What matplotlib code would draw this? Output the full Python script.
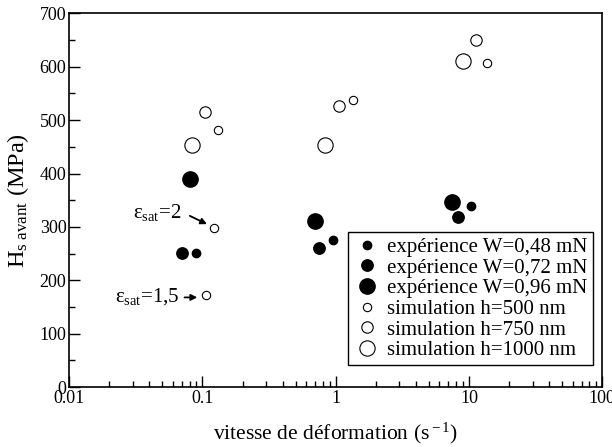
import matplotlib.pyplot as plt
from matplotlib.ticker import FixedLocator, NullFormatter

plt.rcParams['font.family'] = ['Liberation Serif', 'DejaVu Serif']
plt.rcParams['mathtext.fontset'] = 'custom'
plt.rcParams['mathtext.rm'] = 'Liberation Serif'
plt.rcParams['mathtext.it'] = 'Liberation Serif'

# experience series (strain rate s^-1, hardness MPa)
exp048_x = [0.090, 0.95, 10.4]
exp048_y = [252, 276, 339]
exp072_x = [0.070, 0.75, 8.3]
exp072_y = [252, 261, 318]
exp096_x = [0.080, 0.705, 7.45]
exp096_y = [390, 311, 347]

# simulation series
sim500_x = [0.132, 1.36, 13.6, 0.123, 0.107]
sim500_y = [481, 538, 607, 298, 172]
sim750_x = [0.104, 1.055, 11.2]
sim750_y = [516, 527, 650]
sim1000_x = [0.084, 0.834, 9.04]
sim1000_y = [453, 453, 611]

fig = plt.figure(figsize=(6.12, 4.47), dpi=100)
ax = fig.add_axes([0.113, 0.134, 0.871, 0.836])

ax.plot(exp048_x, exp048_y, 'o', ms=6.0, mfc='black', mec='black', label='expérience W=0,48 mN')
ax.plot(exp072_x, exp072_y, 'o', ms=8.2, mfc='black', mec='black', label='expérience W=0,72 mN')
ax.plot(exp096_x, exp096_y, 'o', ms=11.0, mfc='black', mec='black', label='expérience W=0,96 mN')
ax.plot(sim500_x, sim500_y, 'o', ms=6.0, mfc='white', mec='black', mew=0.8, label='simulation h=500 nm')
ax.plot(sim750_x, sim750_y, 'o', ms=8.2, mfc='white', mec='black', mew=0.8, label='simulation h=750 nm')
ax.plot(sim1000_x, sim1000_y, 'o', ms=11.0, mfc='white', mec='black', mew=0.8, label='simulation h=1000 nm')

ax.set_xscale('log')
ax.set_xlim(0.01, 100)
ax.set_ylim(0, 700)
ax.set_xticks([0.01, 0.1, 1, 10, 100])
ax.set_xticklabels(['0.01', '0.1', '1', '10', '100'])
ax.xaxis.set_minor_formatter(NullFormatter())
ax.set_yticks(range(0, 701, 100))
ax.yaxis.set_minor_locator(FixedLocator(range(50, 700, 100)))
ax.tick_params(which='both', direction='in', top=False, right=False, labelsize=13, width=1, pad=2)
ax.tick_params(which='major', length=8)
ax.tick_params(which='minor', length=4)
for s in ax.spines.values():
    s.set_linewidth(1.2)

ax.set_xlabel('vitesse de déformation (s$^{\\rm -1}$)', fontsize=15.5, labelpad=10)
ax.set_ylabel('H$_{\\rm s\\ avant}$ (MPa)', fontsize=17.5, labelpad=6)

# annotations
ax.annotate('', xy=(0.113, 303), xytext=(0.077, 323),
            arrowprops=dict(arrowstyle='-|>', color='black', lw=1.3, mutation_scale=9))
ax.text(0.030, 328, r'$\varepsilon_{\rm sat}$=2', fontsize=15, ha='left', va='center')
ax.annotate('', xy=(0.096, 168), xytext=(0.070, 168),
            arrowprops=dict(arrowstyle='-|>', color='black', lw=1.3, mutation_scale=9))
ax.text(0.022, 170, r'$\varepsilon_{\rm sat}$=1,5', fontsize=15, ha='left', va='center')

leg = ax.legend(loc='lower right', bbox_to_anchor=(0.982, 0.058), fontsize=15,
                frameon=True, fancybox=False, edgecolor='black', framealpha=1,
                handletextpad=0.3, labelspacing=0.05, borderpad=0.25, handlelength=1.3,
                borderaxespad=0)
leg.get_frame().set_linewidth(1.0)

fig.savefig('out.png', dpi=100)
